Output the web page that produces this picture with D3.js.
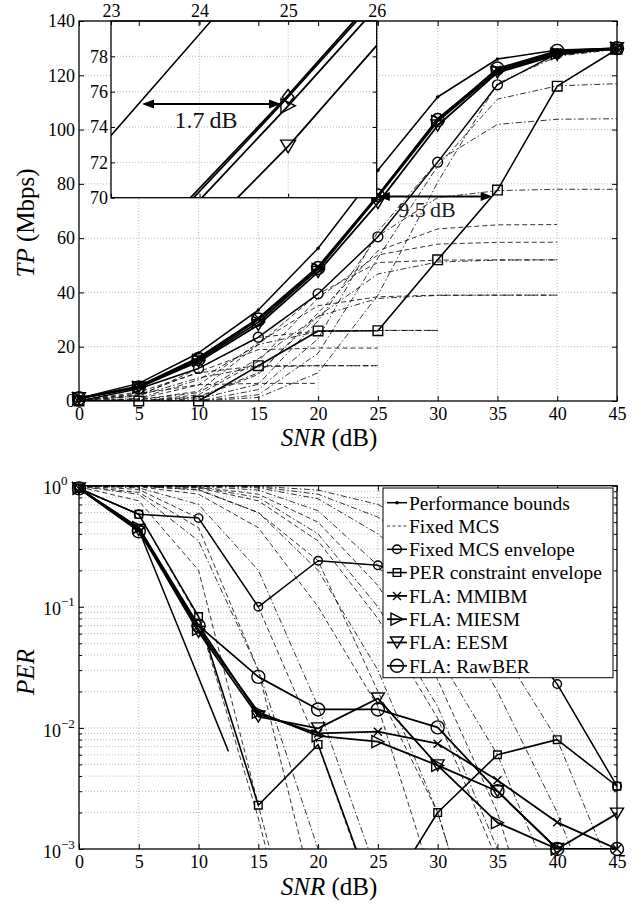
<!DOCTYPE html>
<html>
<head>
<meta charset="utf-8">
<script src="https://cdn.jsdelivr.net/npm/d3@7/dist/d3.min.js"></script>
<style>
  body { margin: 0; background: #fff; }
  svg text { font-family: "Liberation Serif", "Times New Roman", serif; }
</style>
</head>
<body>
<svg id="fig" width="642" height="904"></svg>
<script>
// SNR points (dB) shared by the series
const snr = [0, 5, 10, 15, 20, 25, 30, 35, 40, 45];
const snrTicks = [0, 5, 10, 15, 20, 25, 30, 35, 40, 45];
const tpTicks = [0, 20, 40, 60, 80, 100, 120, 140];
const perTicks = [1e-3, 1e-2, 1e-1, 1];
const insetSnrTicks = [23, 24, 25, 26];
const insetTpTicks = [70, 72, 74, 76, 78];

// throughput, Mbps
const tpBound      = [1, 6.5, 17.7, 33.5, 56.3, 85, 112, 126, 129.3, 130];
const tpEnvelope   = [0, 4.5, 12, 23.5, 39.5, 60.5, 88, 116.5, 128, 129.6];
const tpConstraint = [0, 0, 0, 13, 25.8, 25.9, 52, 77.7, 116, 129.6];
const tpMMIBM      = [1, 5.5, 16, 30.5, 49.5, 75.8, 104, 122, 128.5, 130];
const tpMIESM      = [1, 5, 15, 29, 48.5, 75.2, 103, 121.5, 128, 130];
const tpEESM       = [1, 5, 14.5, 28, 47.5, 72.9, 101.5, 121, 127.5, 130];
const tpRawBER     = [1, 5, 15.5, 30, 49, 75.7, 103.5, 122.5, 129, 130];

// packet error rate
const perBoundSnr   = [0, 5, 12.5];
const perBound      = [0.95, 0.43, 0.0064];
const perEnvelope   = [0.95, 0.58, 0.54, 0.1, 0.24, 0.22, 0.15, 0.1, 0.023, 0.0033];
const perConstraint = [0.95, 0.58, 0.083, 0.0023, 0.0073, 0.00032, 0.002, 0.006, 0.008, 0.0033];
const perMMIBM      = [0.95, 0.45, 0.07, 0.013, 0.009, 0.0093, 0.0074, 0.0037, 0.00166, 0.001];
const perMIESM      = [0.95, 0.45, 0.065, 0.0135, 0.0086, 0.0077, 0.0049, 0.00165, 0.001, null];
const perEESM       = [0.95, 0.43, 0.062, 0.0124, 0.0099, 0.0175, 0.0049, 0.003, 0.001, 0.00196];
const perRawBER     = [0.95, 0.42, 0.07, 0.0264, 0.0142, 0.0142, 0.0101, 0.003, 0.001, 0.001];

// fixed MCS curves
const mcsRate    = [6.5, 13, 19.5, 26, 13, 26, 39, 39, 52, 58.5, 52, 65, 78, 104, 117, 130];
const mcsStreams = [1, 1, 1, 1, 2, 2, 1, 2, 1, 1, 2, 1, 2, 2, 2, 2];
const mcsTP = [
  [0.3, 2.7, 6.0, 6.49, 6.5],
  [0.26, 3.3, 10.4, 12.97, 13, 13],
  [0.2, 2.3, 10.7, 18.9, 19.5, 19.5],
  [0.1, 1.8, 12.0, 23.4, 25.8, 26, 26],
  [0.13, 2.0, 8.5, 12.6, 13, 13],
  [0, 1.0, 7.8, 20.8, 25.6, 26, 26],
  [0, 0.8, 5.9, 21.5, 35.1, 38.4, 39, 39, 39],
  [0, 0.4, 3.1, 15.6, 31.2, 37.8, 38.9, 39, 39],
  [0, 0.5, 3.6, 20.8, 39.5, 51, 51.9, 52, 52],
  [0, 0, 2.3, 14.6, 38, 53.8, 57.8, 58.45, 58.5],
  [0, 0, 1.6, 10.4, 31.2, 46.8, 51.2, 51.9, 52],
  [0, 0, 1.3, 9.8, 32.5, 55.3, 63.4, 64.9, 65],
  [0, 0, 0.8, 6.2, 29.6, 60.8, 74.9, 77.5, 78, 78],
  [0, 0, 0, 4.2, 22.9, 62.4, 88.4, 101.9, 103.8, 104],
  [0, 0, 0, 2.3, 17.6, 52.7, 86.6, 111.2, 116.1, 116.9],
  [0, 0, 0, 1.3, 10.4, 39, 80.6, 117, 127, 129.6]
];
const mcsPER = [
  [0.95, 0.58, 0.08, 1.8e-3, 2e-5],
  [0.98, 0.75, 0.2, 2.3e-3, 3e-5],
  [0.99, 0.88, 0.45, 0.03, 3e-4],
  [0.995, 0.93, 0.54, 0.1, 7.2e-3, 3e-4],
  [0.99, 0.85, 0.35, 0.03, 1e-3, 2e-5],
  [1, 0.96, 0.7, 0.2, 0.015, 6e-4],
  [1, 0.98, 0.85, 0.45, 0.1, 0.015, 4e-4],
  [1, 0.99, 0.92, 0.6, 0.2, 0.03, 2e-3, 5e-5],
  [1, 0.99, 0.93, 0.6, 0.24, 0.02, 2e-3, 5e-5],
  [1, 1, 0.96, 0.75, 0.35, 0.08, 0.012, 8e-4],
  [1, 1, 0.97, 0.8, 0.4, 0.1, 0.015, 1e-3, 2e-5],
  [1, 1, 0.98, 0.85, 0.5, 0.15, 0.025, 2e-3, 5e-5],
  [1, 1, 0.99, 0.92, 0.62, 0.22, 0.04, 6e-3, 4e-4],
  [1, 1, 1, 0.96, 0.78, 0.4, 0.15, 0.02, 2e-3, 1e-4],
  [1, 1, 1, 0.98, 0.85, 0.55, 0.26, 0.05, 8e-3, 5e-4],
  [1, 1, 1, 0.99, 0.92, 0.7, 0.38, 0.1, 0.023, 3.3e-3]
];

// SNR gaps shown with arrows: [from dB, to dB, at TP]
const gapMain  = [25.0, 34.6, 75.3];
const gapInset = [23.35, 24.92, 75.3];

const legendLabels = ['Performance bounds', 'Fixed MCS', 'Fixed MCS envelope', 'PER constraint envelope',
  'FLA: MMIBM', 'FLA: MIESM', 'FLA: EESM', 'FLA: RawBER'];

const FONT = '"Liberation Serif", "Times New Roman", serif';
const svg = d3.select('#fig');
svg.append('rect').attr('width', 642).attr('height', 904).attr('fill', '#fff');

const xTop = d3.scaleLinear().domain([0, 45]).range([79, 617]);
const yTop = d3.scaleLinear().domain([0, 140]).range([401, 21]);
const xBot = d3.scaleLinear().domain([0, 45]).range([79, 617]);
const yBot = d3.scaleLog().domain([1e-3, 1]).range([849, 485.7]);
const xIn = d3.scaleLinear().domain([23, 26]).range([111, 376.7]);
const yIn = d3.scaleLinear().domain([70, 80]).range([197.7, 21]);

const defs = svg.append('defs');
function clip(id, x, y) {
  const [x0, x1] = x.range(), [y0, y1] = y.range();
  defs.append('clipPath').attr('id', id).append('rect')
    .attr('x', x0).attr('y', Math.min(y0, y1)).attr('width', x1 - x0).attr('height', Math.abs(y0 - y1));
}
clip('cTop', xTop, yTop);
clip('cBot', xBot, yBot);
clip('cIn', xIn, yIn);

const sty = {
  bound: {m: '.', ms: 3.5, lw: 1.5},
  env:   {m: 'o', ms: 9, lw: 1.5},
  con:   {m: 's', ms: 8, lw: 1.6},
  mmibm: {m: 'x', ms: 8, lw: 1.8},
  miesm: {m: '>', ms: 12, lw: 1.8},
  eesm:  {m: 'v', ms: 13, lw: 1.8},
  raw:   {m: 'o', ms: 13, lw: 1.8}
};
const dashOf = s => s === 1 ? '5,3' : '6,2.5,1.5,2.5';

function mark(g, type, cx, cy, s) {
  const h = s / 2;
  if (type === '.') {
    g.append('circle').attr('cx', cx).attr('cy', cy).attr('r', h).attr('fill', '#000');
    return;
  }
  let el;
  if (type === 'o') el = g.append('circle').attr('cx', cx).attr('cy', cy).attr('r', h);
  else {
    let d;
    if (type === 's') d = `M${cx - h},${cy - h}h${s}v${s}h${-s}Z`;
    if (type === 'x') d = `M${cx - h},${cy - h}L${cx + h},${cy + h}M${cx - h},${cy + h}L${cx + h},${cy - h}`;
    if (type === '>') d = `M${cx - h},${cy - h}L${cx + h},${cy}L${cx - h},${cy + h}Z`;
    if (type === 'v') d = `M${cx - h},${cy - h * 0.85}L${cx + h},${cy - h * 0.85}L${cx},${cy + h * 0.85}Z`;
    if (type === 'd') d = `M${cx},${cy - h}L${cx + h * 0.78},${cy}L${cx},${cy + h}L${cx - h * 0.78},${cy}Z`;
    el = g.append('path').attr('d', d);
  }
  el.attr('fill', 'none').attr('stroke', '#000').attr('stroke-width', 1.4);
}

function plot(g, xs, ys, xS, yS, st, clipId, k, markType) {
  const pts = ys.map((v, i) => [xs[i], v]);
  const line = d3.line().defined(d => d[1] != null).x(d => xS(d[0])).y(d => yS(d[1]));
  g.append('path').datum(pts).attr('d', line)
    .attr('fill', 'none').attr('stroke', '#000').attr('stroke-width', st.lw)
    .attr('stroke-linejoin', 'round')
    .attr('stroke-dasharray', st.dash || null)
    .attr('clip-path', `url(#${clipId})`);
  const m = markType === undefined ? st.m : markType;
  if (!m) return;
  const [lo, hi] = yS.domain();
  pts.filter(d => d[1] != null && d[1] >= lo * 0.999 && d[1] <= hi && d[0] >= xS.domain()[0] && d[0] <= xS.domain()[1])
    .forEach(d => mark(g, m, xS(d[0]), yS(d[1]), st.ms * k));
}

function grid(g, xS, yS, xv, yv) {
  const [x0, x1] = xS.range(), [y0, y1] = yS.range();
  g.selectAll(null).data(xv).enter().append('line')
    .attr('x1', d => xS(d)).attr('x2', d => xS(d)).attr('y1', y0).attr('y2', y1);
  g.selectAll(null).data(yv).enter().append('line')
    .attr('x1', x0).attr('x2', x1).attr('y1', d => yS(d)).attr('y2', d => yS(d));
  g.selectAll('line').attr('stroke', '#a8a8a8').attr('stroke-width', 0.8).attr('stroke-dasharray', '1,2');
}

function styleAxis(g) {
  g.selectAll('.domain').remove();
  g.selectAll('.tick line').attr('stroke', '#000').attr('stroke-width', 1);
  g.selectAll('.tick text').attr('fill', '#000').attr('font-size', 18).attr('font-family', FONT);
}

function arrow(g, x1, x2, y) {
  g.append('line').attr('x1', x1 + 8).attr('x2', x2 - 8).attr('y1', y).attr('y2', y)
    .attr('stroke', '#000').attr('stroke-width', 2);
  g.append('path').attr('d', `M${x1},${y}l12,-4.5v9Z`).attr('fill', '#000');
  g.append('path').attr('d', `M${x2},${y}l-12,-4.5v9Z`).attr('fill', '#000');
}

// ---------- top chart: throughput ----------
const gTop = svg.append('g');
grid(gTop.append('g'), xTop, yTop, snrTicks.slice(1, -1), tpTicks.slice(1, -1));

const topLines = gTop.append('g');
mcsTP.forEach((tp, i) => plot(topLines, snr, tp, xTop, yTop,
  {lw: 0.8, dash: dashOf(mcsStreams[i])}, 'cTop', 1));
plot(topLines, snr, tpEnvelope, xTop, yTop, sty.env, 'cTop', 1.1);
plot(topLines, snr, tpConstraint, xTop, yTop, sty.con, 'cTop', 1.2);
plot(topLines, snr, tpEESM, xTop, yTop, sty.eesm, 'cTop', 1);
plot(topLines, snr, tpMIESM, xTop, yTop, sty.miesm, 'cTop', 1);
plot(topLines, snr, tpMMIBM, xTop, yTop, sty.mmibm, 'cTop', 1);
plot(topLines, snr, tpRawBER, xTop, yTop, sty.raw, 'cTop', 1);
plot(topLines, snr, tpBound, xTop, yTop, sty.bound, 'cTop', 1);

arrow(gTop, xTop(gapMain[0]), xTop(gapMain[1]), yTop(gapMain[2]));
gTop.append('text').attr('x', 427).attr('y', 217).attr('text-anchor', 'middle')
  .attr('font-size', 22).attr('fill', '#222').text('9.5\u2009dB');

// inset
const inset = svg.append('g');
inset.append('rect').attr('x', 111).attr('y', 21).attr('width', 265.7).attr('height', 176.7).attr('fill', '#fff');
grid(inset.append('g'), xIn, yIn, [24, 25], [72, 74, 76, 78]);
plot(inset, snr, tpBound, xIn, yIn, sty.bound, 'cIn', 1, null);
plot(inset, snr, tpEESM, xIn, yIn, sty.eesm, 'cIn', 1.15);
plot(inset, snr, tpMIESM, xIn, yIn, sty.miesm, 'cIn', 1.2);
plot(inset, snr, tpMMIBM, xIn, yIn, sty.mmibm, 'cIn', 1, null);
plot(inset, snr, tpRawBER, xIn, yIn, sty.raw, 'cIn', 1.15, 'd');
arrow(inset, xIn(gapInset[0]), xIn(gapInset[1]), yIn(gapInset[2]));
inset.append('text').attr('x', 206).attr('y', 127.5).attr('text-anchor', 'middle')
  .attr('font-size', 24).attr('fill', '#111').text('1.7\u2009dB');

const inAx = inset.append('g');
const fmtInt = d3.format('d');
inAx.append('g').attr('transform', 'translate(111,0)')
  .call(d3.axisLeft(yIn).tickValues(insetTpTicks).tickFormat(fmtInt).tickSize(-4).tickSizeOuter(0).tickPadding(3));
inAx.append('g').attr('transform', 'translate(376.7,0)')
  .call(d3.axisRight(yIn).tickValues(insetTpTicks).tickSize(-4).tickSizeOuter(0).tickFormat(''));
inAx.append('g').attr('transform', 'translate(0,21)')
  .call(d3.axisTop(xIn).tickValues(insetSnrTicks).tickFormat(fmtInt).tickSize(-4).tickSizeOuter(0).tickPadding(4));
inAx.append('g').attr('transform', 'translate(0,197.7)')
  .call(d3.axisBottom(xIn).tickValues(insetSnrTicks).tickSize(-4).tickSizeOuter(0).tickFormat(''));
styleAxis(inAx);
inset.append('rect').attr('x', 111).attr('y', 21).attr('width', 265.7).attr('height', 176.7)
  .attr('fill', 'none').attr('stroke', '#000').attr('stroke-width', 1.3);

// top axes
const ax1 = svg.append('g');
ax1.append('g').attr('transform', 'translate(0,401)')
  .call(d3.axisBottom(xTop).tickValues(snrTicks).tickSize(-5).tickSizeOuter(0).tickPadding(6));
ax1.append('g').attr('transform', 'translate(0,21)')
  .call(d3.axisTop(xTop).tickValues(snrTicks).tickSize(-5).tickSizeOuter(0).tickFormat(''));
ax1.append('g').attr('transform', 'translate(79,0)')
  .call(d3.axisLeft(yTop).tickValues(tpTicks).tickSize(-5).tickSizeOuter(0).tickPadding(4));
ax1.append('g').attr('transform', 'translate(617,0)')
  .call(d3.axisRight(yTop).tickValues(tpTicks).tickSize(-5).tickSizeOuter(0).tickFormat(''));
styleAxis(ax1);
svg.append('rect').attr('x', 79).attr('y', 21).attr('width', 538).attr('height', 380)
  .attr('fill', 'none').attr('stroke', '#000').attr('stroke-width', 1.3);

// ---------- bottom chart: PER ----------
const gBot = svg.append('g');
grid(gBot.append('g'), xBot, yBot, snrTicks.slice(1, -1), yBot.ticks().filter(v => v > 1e-3 && v < 1));

const botLines = gBot.append('g');
mcsPER.forEach((p, i) => plot(botLines, snr, p, xBot, yBot,
  {lw: 0.8, dash: dashOf(mcsStreams[i])}, 'cBot', 1));
plot(botLines, perBoundSnr, perBound, xBot, yBot, sty.bound, 'cBot', 1, null);
plot(botLines, snr, perEnvelope, xBot, yBot, sty.env, 'cBot', 0.95);
plot(botLines, snr, perConstraint, xBot, yBot, sty.con, 'cBot', 0.95);
plot(botLines, snr, perMMIBM, xBot, yBot, sty.mmibm, 'cBot', 1);
plot(botLines, snr, perMIESM, xBot, yBot, sty.miesm, 'cBot', 1);
plot(botLines, snr, perEESM, xBot, yBot, sty.eesm, 'cBot', 1);
plot(botLines, snr, perRawBER, xBot, yBot, sty.raw, 'cBot', 1);

const ax2 = svg.append('g');
ax2.append('g').attr('transform', 'translate(0,849)')
  .call(d3.axisBottom(xBot).tickValues(snrTicks).tickSize(-5).tickSizeOuter(0).tickPadding(6));
ax2.append('g').attr('transform', 'translate(0,485.7)')
  .call(d3.axisTop(xBot).tickValues(snrTicks).tickSize(-5).tickSizeOuter(0).tickFormat(''));
const minor = yBot.ticks().filter(v => !perTicks.includes(v));
ax2.append('g').attr('transform', 'translate(79,0)')
  .call(d3.axisLeft(yBot).tickValues(minor).tickSize(-3).tickSizeOuter(0).tickFormat(''));
ax2.append('g').attr('transform', 'translate(617,0)')
  .call(d3.axisRight(yBot).tickValues(minor).tickSize(-3).tickSizeOuter(0).tickFormat(''));
ax2.append('g').attr('transform', 'translate(617,0)')
  .call(d3.axisRight(yBot).tickValues(perTicks).tickSize(-5).tickSizeOuter(0).tickFormat(''));
const yl = ax2.append('g').attr('transform', 'translate(79,0)')
  .call(d3.axisLeft(yBot).tickValues(perTicks).tickSize(-5).tickSizeOuter(0).tickFormat(''));
styleAxis(ax2);
yl.selectAll('.tick text').each(function (d) {
  const t = d3.select(this).attr('text-anchor', 'start').attr('x', -36).attr('dy', '0.45em');
  const e = Math.round(Math.log10(d));
  t.append('tspan').text('10');
  t.append('tspan').attr('dy', -9).attr('font-size', 13).text(e === 0 ? '0' : '\u2212' + Math.abs(e));
});
svg.append('rect').attr('x', 79).attr('y', 485.7).attr('width', 538).attr('height', 363.3)
  .attr('fill', 'none').attr('stroke', '#000').attr('stroke-width', 1.3);

// legend
const lg = svg.append('g');
lg.append('rect').attr('x', 383).attr('y', 488).attr('width', 230).attr('height', 189.7)
  .attr('fill', '#fff').attr('stroke', '#000').attr('stroke-width', 1);
const legSty = [sty.bound, {lw: 0.8, dash: '3,2.5'}, sty.env, sty.con, sty.mmibm, sty.miesm, sty.eesm, sty.raw];
const legScale = [1, 1, 0.95, 0.95, 1, 1, 1, 1];
legendLabels.forEach((lab, i) => {
  const y = 502.7 + i * 23.3;
  lg.append('line').attr('x1', 387).attr('x2', 407).attr('y1', y).attr('y2', y)
    .attr('stroke', '#000').attr('stroke-width', legSty[i].lw).attr('stroke-dasharray', legSty[i].dash || null);
  if (legSty[i].m) mark(lg, legSty[i].m, 397, y, legSty[i].ms * legScale[i]);
  lg.append('text').attr('x', 409).attr('y', y).attr('dy', '0.35em').attr('font-size', 19.5)
    .attr('fill', '#000').text(lab);
});

// axis titles
function xTitle(y) {
  const t = svg.append('text').attr('x', 329).attr('y', y).attr('text-anchor', 'middle')
    .attr('font-size', 25).attr('fill', '#000');
  t.append('tspan').attr('font-style', 'italic').text('SNR');
  t.append('tspan').text(' (dB)');
}
xTitle(446);
xTitle(894.5);
const ty = svg.append('text').attr('transform', 'translate(34,223) rotate(-90)')
  .attr('text-anchor', 'middle').attr('font-size', 25).attr('fill', '#000');
ty.append('tspan').attr('font-style', 'italic').text('TP');
ty.append('tspan').text(' (Mbps)');
svg.append('text').attr('transform', 'translate(34,672) rotate(-90)')
  .attr('text-anchor', 'middle').attr('font-size', 25).attr('font-style', 'italic').attr('fill', '#000').text('PER');
</script>
</body>
</html>
